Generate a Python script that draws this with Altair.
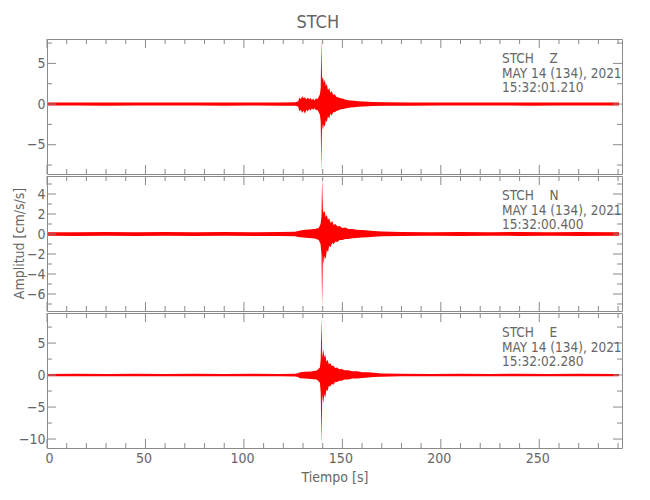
import altair as alt
import pandas as pd

FONT = "Liberation Sans Narrow, DejaVu Sans Condensed, Roboto Condensed, Liberation Sans, sans-serif"
GRAY = "#8a8a8a"
TXT = "#666666"
RED = "#ff0000"
NB = "\u00a0"

station = "STCH"
date_line = "MAY 14 (134), 2021"
components = ["Z", "N", "E"]
start_times = ["15:32:01.210", "15:32:00.400", "15:32:02.280"]

x_title = "Tiempo [s]"
y_title = "Amplitud [cm/s/s]"
x_domain = [0, 292]
x_major = [0, 50, 100, 150, 200, 250]
x_minor = [10, 20, 30, 40, 60, 70, 80, 90, 110, 120, 130, 140, 160, 170, 180, 190,
           210, 220, 230, 240, 260, 270, 280, 290]

# ---- Z component envelope (time, upper, lower) ----
t_z = [0.5, 15, 30, 45, 60, 75, 90, 105, 118, 126, 127.5, 128.2, 128.9, 129.6, 130.3, 131.0,
       131.7, 132.4, 133.1, 133.8, 134.5, 135.2, 135.9, 136.6, 137.3, 138.0, 138.6, 139.0,
       139.3, 139.7, 140.1, 140.6, 141.1, 141.6, 142.1, 142.7, 143.3, 143.9, 144.6, 145.3,
       146.1, 147.0, 148.0, 149.2, 150.5, 152, 154, 156, 158, 161, 165, 172, 185, 200, 215,
       230, 245, 260, 275, 290.5]
up_z = [0.18, 0.2, 0.18, 0.19, 0.18, 0.2, 0.18, 0.19, 0.2, 0.22, 0.3, 0.8, 0.6, 0.95, 0.7,
        0.85, 0.55, 0.8, 0.6, 0.75, 0.5, 0.65, 0.45, 0.7, 0.6, 0.9, 1.2, 2.0,
        8.0, 3.0, 3.4, 2.6, 3.0, 2.2, 2.5, 1.7, 2.0, 1.4, 1.6, 1.1,
        1.2, 0.9, 0.8, 0.7, 0.65, 0.5, 0.45, 0.4, 0.35, 0.3, 0.25, 0.22, 0.2, 0.18, 0.2,
        0.18, 0.19, 0.18, 0.2, 0.18]
lo_z = [-0.18, -0.18, -0.2, -0.18, -0.19, -0.18, -0.2, -0.18, -0.2, -0.22, -0.3, -0.9, -0.7,
        -1.1, -0.8, -1.2, -0.7, -0.9, -0.6, -0.8, -0.55, -0.7, -0.5, -0.75, -0.7, -1.0, -1.3,
        -2.2, -8.3, -2.4, -3.2, -2.5, -2.8, -2.0, -2.2, -1.5, -1.8, -1.2, -1.4, -1.0,
        -1.0, -0.85, -0.75, -0.65, -0.6, -0.5, -0.42, -0.38, -0.33, -0.3, -0.25, -0.22,
        -0.2, -0.18, -0.19, -0.18, -0.2, -0.18, -0.19, -0.18]

# ---- N component envelope ----
t_n = [0.5, 15, 30, 45, 60, 75, 90, 105, 118, 126, 127.5, 130, 133, 136, 138, 138.9, 139.4,
       139.7, 140.1, 140.5, 141.0, 141.5, 142.1, 142.7, 143.3, 144.0, 144.8, 145.6, 146.5,
       147.5, 148.6, 150, 151.5, 153, 155, 157, 160, 163, 166, 170, 180,
       195, 210, 225, 240, 255, 270, 290.5]
up_n = [0.18, 0.18, 0.2, 0.18, 0.19, 0.18, 0.2, 0.18, 0.2, 0.22, 0.3, 0.4, 0.45, 0.5, 0.6, 1.0,
        1.8, 5.6, 2.4, 2.1, 2.3, 1.7, 1.9, 1.4, 1.6, 1.1, 1.3, 0.9, 1.0, 0.75, 0.8, 0.6, 0.65,
        0.5, 0.5, 0.42, 0.4, 0.35, 0.3, 0.24, 0.2,
        0.18, 0.19, 0.18, 0.2, 0.18, 0.19, 0.18]
lo_n = [-0.18, -0.2, -0.18, -0.19, -0.18, -0.2, -0.18, -0.19, -0.2, -0.22, -0.3, -0.35, -0.4,
        -0.45, -0.6, -1.0, -2.0, -7.4, -2.0, -3.0, -2.2, -2.5, -1.6, -1.8, -1.2, -1.3, -0.9,
        -1.0, -0.75, -0.8, -0.6, -0.6, -0.5, -0.5, -0.42, -0.4, -0.35, -0.32, -0.28, -0.22,
        -0.19, -0.18, -0.2, -0.18, -0.19, -0.18, -0.2, -0.18]

# ---- E component envelope ----
t_e = [0.5, 15, 30, 45, 60, 75, 90, 105, 118, 126, 127.5, 128.5, 131, 134, 137, 138.6, 139.0,
       139.4, 139.8, 140.3, 140.8, 141.3, 141.9, 142.5, 143.1, 143.8, 144.6, 145.4, 146.3,
       147.3, 148.4, 149.7, 151, 153, 155, 157.5, 160, 163, 166, 170, 180, 195, 210, 225,
       240, 255, 270, 290.5]
up_e = [0.18, 0.19, 0.18, 0.2, 0.18, 0.19, 0.18, 0.2, 0.18, 0.22, 0.3, 0.45, 0.5, 0.55, 0.7,
        1.2, 2.5, 8.9, 2.7, 4.0, 2.8, 3.2, 2.1, 2.4, 1.7, 1.9, 1.4, 1.5, 1.1, 1.2, 0.9, 0.95,
        0.75, 0.75, 0.6, 0.6, 0.45, 0.42, 0.35, 0.25, 0.2, 0.18,
        0.19, 0.18, 0.2, 0.18, 0.19, 0.18]
lo_e = [-0.18, -0.18, -0.19, -0.18, -0.2, -0.18, -0.19, -0.18, -0.2, -0.22, -0.3, -0.5, -0.55,
        -0.6, -0.7, -1.2, -2.8, -10.9, -3.0, -4.4, -3.0, -3.5, -2.3, -2.5, -1.7, -1.8, -1.4,
        -1.5, -1.1, -1.1, -0.9, -0.9, -0.7, -0.7, -0.55, -0.55, -0.45, -0.4, -0.3, -0.25,
        -0.2, -0.18, -0.2, -0.18, -0.19, -0.18, -0.2, -0.18]

y_domains = [[-8.6, 8.0], [-7.7, 5.8], [-11.4, 9.7]]
y_majors = [[-5, 0, 5], [-6, -4, -2, 0, 2, 4], [-10, -5, 0, 5]]
y_minors = [[-7.5, -2.5, 2.5, 7.5], [-7, -5, -3, -1, 1, 3, 5], [-7.5, -2.5, 2.5, 7.5]]

W = 575
H = 135
MAJ = 9
MIN = 5


def panel(i, t, up, lo, show_x, show_ytitle):
    xscale = alt.Scale(domain=x_domain, nice=False, zero=False)
    yscale = alt.Scale(domain=y_domains[i], nice=False, zero=False)
    if show_x:
        xaxis = alt.Axis(values=x_major, ticks=False, domain=False, grid=False,
                         title=x_title, labelPadding=3, labelOffset=-2, labelFont=FONT,
                         labelFontSize=14, labelColor=TXT, titleFont=FONT, titleFontSize=14,
                         titleColor=TXT, titleFontWeight="normal", titlePadding=5)
    else:
        xaxis = alt.Axis(values=x_major, ticks=False, domain=False, grid=False,
                         labels=False, title=None)
    yaxis = alt.Axis(values=y_majors[i], ticks=False, domain=False, grid=False,
                     title=None, labelPadding=2, labelFont=FONT, labelFontSize=14,
                     labelColor=TXT, minExtent=22, maxExtent=22)
    df = pd.DataFrame({"t": t, "up": up, "lo": lo})
    area = alt.Chart(df).mark_area(color=RED, interpolate="linear", opacity=1).encode(
        x=alt.X("t:Q", scale=xscale, axis=xaxis, title=x_title if show_x else None),
        y=alt.Y("up:Q", scale=yscale, axis=yaxis, title=None),
        y2="lo:Q",
    )
    layers = [area]
    for vals, ln in [(x_major, MAJ), (x_minor, MIN)]:
        d = pd.DataFrame({"v": vals})
        base = alt.Chart(d).mark_rule(color=GRAY, strokeWidth=1)
        layers.append(base.encode(x=alt.X("v:Q", scale=xscale, axis=xaxis,
                                          title=x_title if show_x else None),
                                  y=alt.value(0), y2=alt.value(ln)))
        layers.append(base.encode(x=alt.X("v:Q", scale=xscale, axis=xaxis,
                                          title=x_title if show_x else None),
                                  y=alt.value(H), y2=alt.value(H - ln)))
    for vals, ln in [(y_majors[i], MAJ), (y_minors[i], MIN)]:
        d = pd.DataFrame({"v": vals})
        base = alt.Chart(d).mark_rule(color=GRAY, strokeWidth=1)
        layers.append(base.encode(y=alt.Y("v:Q", scale=yscale, axis=yaxis, title=None),
                                  x=alt.value(0), x2=alt.value(ln)))
        layers.append(base.encode(y=alt.Y("v:Q", scale=yscale, axis=yaxis, title=None),
                                  x=alt.value(W), x2=alt.value(W - ln)))
    label = "\n".join([f"{station}{NB}{NB}{NB}{NB}{components[i]}", date_line, start_times[i]])
    txt = alt.Chart(pd.DataFrame({"s": [label]})).mark_text(
        align="left", baseline="middle", lineBreak="\n", lineHeight=14.5,
        font=FONT, fontSize=13.5, color=TXT
    ).encode(x=alt.value(455), y=alt.value(20), text="s:N")
    layers.append(txt)
    if show_ytitle:
        yt = alt.Chart(pd.DataFrame({"s": [y_title]})).mark_text(
            angle=270, align="center", baseline="middle", font=FONT, fontSize=14,
            color=TXT
        ).encode(x=alt.value(-27), y=alt.value(H / 2), text="s:N")
        layers.append(yt)
    return alt.layer(*layers).properties(width=W, height=H)


p1 = panel(0, t_z, up_z, lo_z, False, False)
p2 = panel(1, t_n, up_n, lo_n, False, True)
p3 = panel(2, t_e, up_e, lo_e, True, False)

chart = alt.vconcat(p1, p2, p3, spacing=0).properties(
    title=alt.TitleParams(station, font=FONT, fontSize=18, fontWeight="normal",
                          color=TXT, anchor="middle", offset=6),
    padding={"left": 4, "top": 6, "right": 5, "bottom": 5},
).configure_view(stroke=GRAY, strokeWidth=1).configure_concat(spacing=0)

chart.save("out.html", embed_options={"renderer": "svg", "actions": False})
